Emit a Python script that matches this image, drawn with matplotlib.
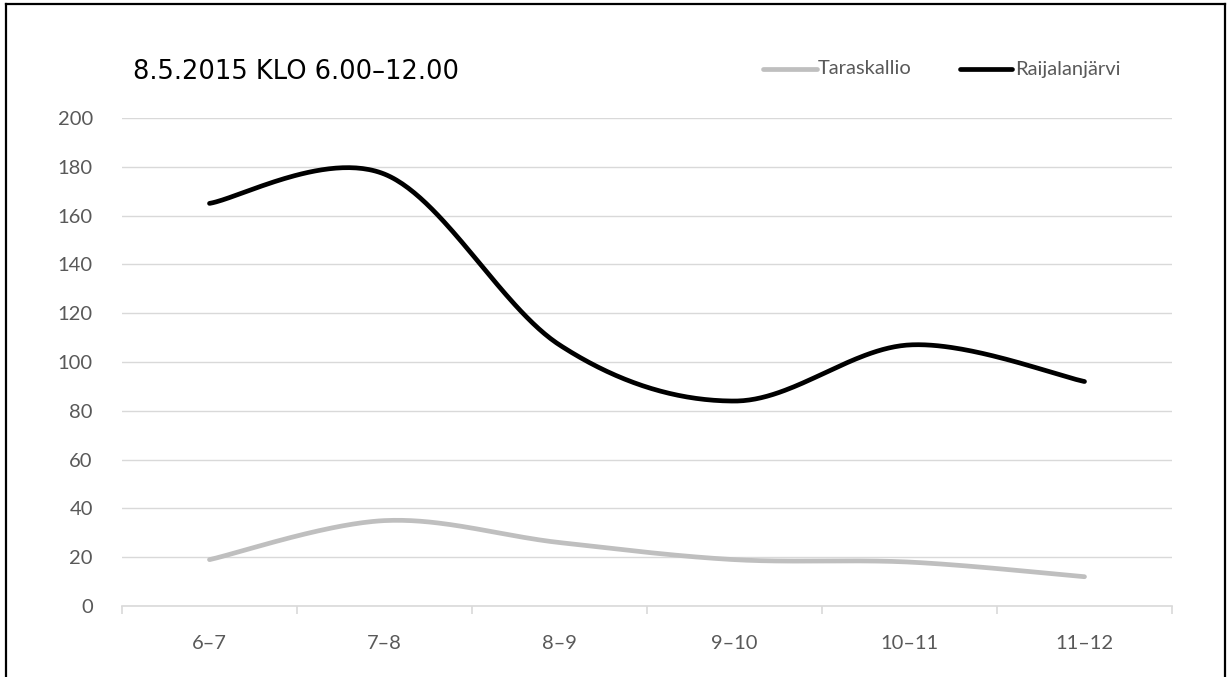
import numpy as np
import matplotlib
matplotlib.use("Agg")
import matplotlib.pyplot as plt
from matplotlib.lines import Line2D

# Hourly counts, 8 May 2015
categories = ["6–7", "7–8", "8–9", "9–10", "10–11", "11–12"]
taraskallio = [19, 35, 26, 19, 18, 12]
raijalanjarvi = [165, 177, 107, 84, 107, 92]
y_ticks = [0, 20, 40, 60, 80, 100, 120, 140, 160, 180, 200]
title = "8.5.2015 KLO 6.00–12.00"

plt.rcParams["font.family"] = ["Lato", "DejaVu Sans"]


def smooth(xs, ys, n=60):
    """Bezier smoothing through every point (Catmull-Rom style, tension 1/6)."""
    pts = np.column_stack([xs, ys]).astype(float)
    ext = np.vstack([pts[0], pts, pts[-1]])
    out = []
    t = np.linspace(0, 1, n)[:, None]
    for i in range(len(pts) - 1):
        p0 = ext[i + 1]
        p3 = ext[i + 2]
        c1 = p0 + (ext[i + 2] - ext[i]) / 6.0
        c2 = p3 - (ext[i + 3] - ext[i + 1]) / 6.0
        seg = ((1 - t) ** 3) * p0 + 3 * ((1 - t) ** 2) * t * c1 \
            + 3 * (1 - t) * t ** 2 * c2 + t ** 3 * p3
        out.append(seg if i == 0 else seg[1:])
    return np.vstack(out)


W, H = 1230, 677
fig = plt.figure(figsize=(W / 100, H / 100), dpi=100)
ax = fig.add_axes([122 / W, 1 - 606 / H, (1172 - 122) / W, (606 - 118) / H])

x = np.arange(len(categories))
grey_c = "#BFBFBF"
black_c = "#000000"
for ys, col in ((taraskallio, grey_c), (raijalanjarvi, black_c)):
    curve = smooth(x, ys)
    ax.plot(curve[:, 0], curve[:, 1], color=col, lw=3.4,
            solid_capstyle="round", solid_joinstyle="round", zorder=3)

ax.set_xlim(-0.5, len(categories) - 0.5)
ax.set_ylim(0, 200)
ax.set_yticks(y_ticks)
ax.yaxis.grid(True, color="#D9D9D9", lw=1.0)
ax.set_axisbelow(True)
for s in ("top", "right", "left"):
    ax.spines[s].set_visible(False)
ax.spines["bottom"].set_color("#D9D9D9")
ax.spines["bottom"].set_linewidth(1.2)
ax.tick_params(axis="y", length=0, pad=21, labelsize=14.5, labelcolor="#595959")

# category boundaries carry the tick marks, centers carry the labels
ax.set_xticks(np.arange(len(categories) + 1) - 0.5)
ax.set_xticklabels([])
ax.tick_params(axis="x", which="major", length=6, width=1.2, color="#D9D9D9")
ax.set_xticks(x, minor=True)
ax.set_xticklabels(categories, minor=True)
ax.tick_params(axis="x", which="minor", length=0, pad=21, labelsize=14.5,
               labelcolor="#595959")

# title
fig.text(133 / W, 1 - 72 / H, title, fontsize=18.5, color="#000000",
         family="DejaVu Sans", ha="left", va="center")

# legend
ly = 1 - 69 / H
fig.add_artist(Line2D([763 / W, 817 / W], [ly, ly], color=grey_c, lw=3.4,
                      solid_capstyle="round"))
fig.text(818 / W, ly, "Taraskallio", fontsize=14.5, color="#595959",
         ha="left", va="center")
fig.add_artist(Line2D([960 / W, 1012 / W], [ly, ly], color=black_c, lw=3.4,
                      solid_capstyle="round"))
fig.text(1015 / W, ly, "Raijalanjärvi", fontsize=14.5, color="#595959",
         ha="left", va="center")

# outer frame
bx0, bx1, by = 6 / W, 1225 / W, 1 - 4 / H
for xs_, ys_ in (([bx0, bx0], [-0.01, by]), ([bx0, bx1], [by, by]),
                 ([bx1, bx1], [by, -0.01])):
    fig.add_artist(Line2D(xs_, ys_, color="black", lw=1.6))

fig.savefig("out.png", dpi=100)
